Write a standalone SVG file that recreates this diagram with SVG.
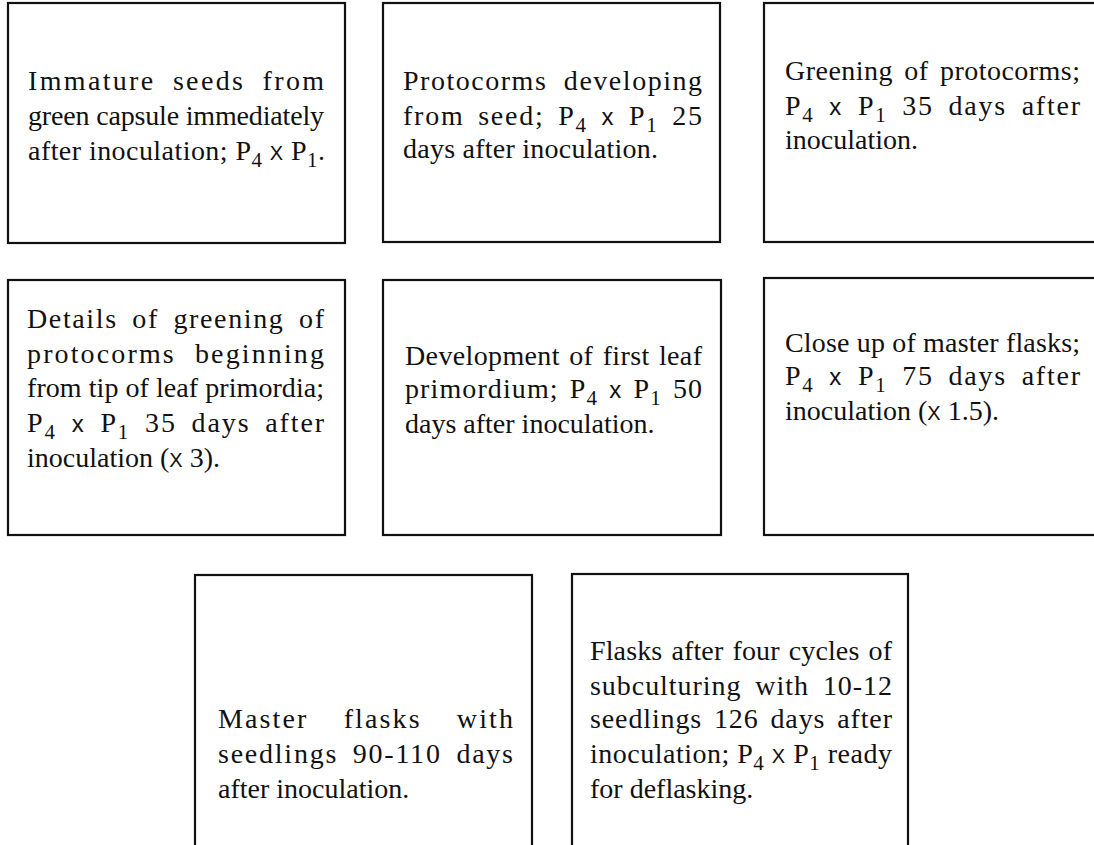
<svg xmlns="http://www.w3.org/2000/svg" width="1094" height="845" viewBox="0 0 1094 845">
  <style>
    .frame { fill: none; stroke: #111; stroke-width: 2.2; }
    .cap { font-family: "Liberation Serif", "Times New Roman", serif; font-size: 28px; fill: #111; }
    .sub { font-size: 21px; }
    .X { font-family: "Liberation Sans", Arial, sans-serif; font-size: 20px; }
    .x { font-family: "Liberation Sans", Arial, sans-serif; font-size: 24px; }
  </style>
  <rect width="1094" height="845" fill="#fff"/>

  <!-- Row 1 -->
  <g id="stage-immature-seeds">
    <rect class="frame" x="8" y="3" width="337" height="240"/>
    <text class="cap" x="28" y="90" word-spacing="8" textLength="296" lengthAdjust="spacing">Immature seeds from</text>
    <text class="cap" x="28" y="125" textLength="296" lengthAdjust="spacing">green capsule immediately</text>
    <text class="cap" x="28" y="160" textLength="297" lengthAdjust="spacing">after inoculation; P<tspan class="sub" dy="7">4</tspan><tspan dy="-7"> </tspan><tspan class="X">X</tspan> P<tspan class="sub" dy="7">1</tspan><tspan dy="-7">.</tspan></text>
  </g>

  <g id="stage-protocorms-25d">
    <rect class="frame" x="383" y="3" width="337" height="239"/>
    <text class="cap" x="403" y="90" word-spacing="8" textLength="299" lengthAdjust="spacing">Protocorms developing</text>
    <text class="cap" x="403" y="125" word-spacing="5" textLength="299" lengthAdjust="spacing">from seed; P<tspan class="sub" dy="7">4</tspan><tspan dy="-7"> </tspan><tspan class="x">x</tspan> P<tspan class="sub" dy="7">1</tspan><tspan dy="-7"> 25</tspan></text>
    <text class="cap" x="403" y="158" textLength="255" lengthAdjust="spacing">days after inoculation.</text>
  </g>

  <g id="stage-greening-35d">
    <rect class="frame" x="764" y="3" width="400" height="239"/>
    <text class="cap" x="785" y="80" word-spacing="4" textLength="295" lengthAdjust="spacing">Greening of protocorms;</text>
    <text class="cap" x="785" y="115" word-spacing="6" textLength="295" lengthAdjust="spacing">P<tspan class="sub" dy="7">4</tspan><tspan dy="-7"> </tspan><tspan class="x">x</tspan> P<tspan class="sub" dy="7">1</tspan><tspan dy="-7"> 35 days after</tspan></text>
    <text class="cap" x="785" y="149">inoculation.</text>
  </g>

  <!-- Row 2 -->
  <g id="stage-greening-detail">
    <rect class="frame" x="8" y="280" width="337" height="255"/>
    <text class="cap" x="27" y="328" word-spacing="6" textLength="297" lengthAdjust="spacing">Details of greening of</text>
    <text class="cap" x="27" y="363" word-spacing="10" textLength="297" lengthAdjust="spacing">protocorms beginning</text>
    <text class="cap" x="27" y="397" textLength="297" lengthAdjust="spacing">from tip of leaf primordia;</text>
    <text class="cap" x="27" y="432" word-spacing="6" textLength="297" lengthAdjust="spacing">P<tspan class="sub" dy="7">4</tspan><tspan dy="-7"> </tspan><tspan class="x">x</tspan> P<tspan class="sub" dy="7">1</tspan><tspan dy="-7"> 35 days after</tspan></text>
    <text class="cap" x="27" y="467">inoculation (<tspan class="X">X</tspan> 3).</text>
  </g>

  <g id="stage-first-leaf-50d">
    <rect class="frame" x="383" y="280" width="338" height="255"/>
    <text class="cap" x="405" y="365" word-spacing="2" textLength="297" lengthAdjust="spacing">Development of first leaf</text>
    <text class="cap" x="405" y="398" word-spacing="3" textLength="297" lengthAdjust="spacing">primordium; P<tspan class="sub" dy="7">4</tspan><tspan dy="-7"> </tspan><tspan class="x">x</tspan> P<tspan class="sub" dy="7">1</tspan><tspan dy="-7"> 50</tspan></text>
    <text class="cap" x="405" y="433">days after inoculation.</text>
  </g>

  <g id="stage-master-closeup-75d">
    <rect class="frame" x="764" y="278" width="400" height="257"/>
    <text class="cap" x="785" y="352" textLength="295" lengthAdjust="spacing">Close up of master flasks;</text>
    <text class="cap" x="785" y="385" word-spacing="6" textLength="295" lengthAdjust="spacing">P<tspan class="sub" dy="7">4</tspan><tspan dy="-7"> </tspan><tspan class="x">x</tspan> P<tspan class="sub" dy="7">1</tspan><tspan dy="-7"> 75 days after</tspan></text>
    <text class="cap" x="785" y="420">inoculation (<tspan class="X">X</tspan> 1.5).</text>
  </g>

  <!-- Row 3 -->
  <g id="stage-master-flasks">
    <rect class="frame" x="195" y="575" width="337" height="300"/>
    <text class="cap" x="218" y="728" word-spacing="26" textLength="295" lengthAdjust="spacing">Master flasks with</text>
    <text class="cap" x="218" y="763" word-spacing="6" textLength="295" lengthAdjust="spacing">seedlings 90-110 days</text>
    <text class="cap" x="218" y="798">after inoculation.</text>
  </g>

  <g id="stage-deflasking">
    <rect class="frame" x="572" y="574" width="336" height="300"/>
    <text class="cap" x="590" y="660" word-spacing="2" textLength="302" lengthAdjust="spacing">Flasks after four cycles of</text>
    <text class="cap" x="590" y="695" word-spacing="6" textLength="302" lengthAdjust="spacing">subculturing with 10-12</text>
    <text class="cap" x="590" y="728" word-spacing="4" textLength="302" lengthAdjust="spacing">seedlings 126 days after</text>
    <text class="cap" x="590" y="763" textLength="302" lengthAdjust="spacing">inoculation; P<tspan class="sub" dy="7">4</tspan><tspan dy="-7"> </tspan><tspan class="X">X</tspan> P<tspan class="sub" dy="7">1</tspan><tspan dy="-7"> ready</tspan></text>
    <text class="cap" x="590" y="798">for deflasking.</text>
  </g>

  <!-- no connectors between the panels -->
  <g id="connectors"/>
</svg>
